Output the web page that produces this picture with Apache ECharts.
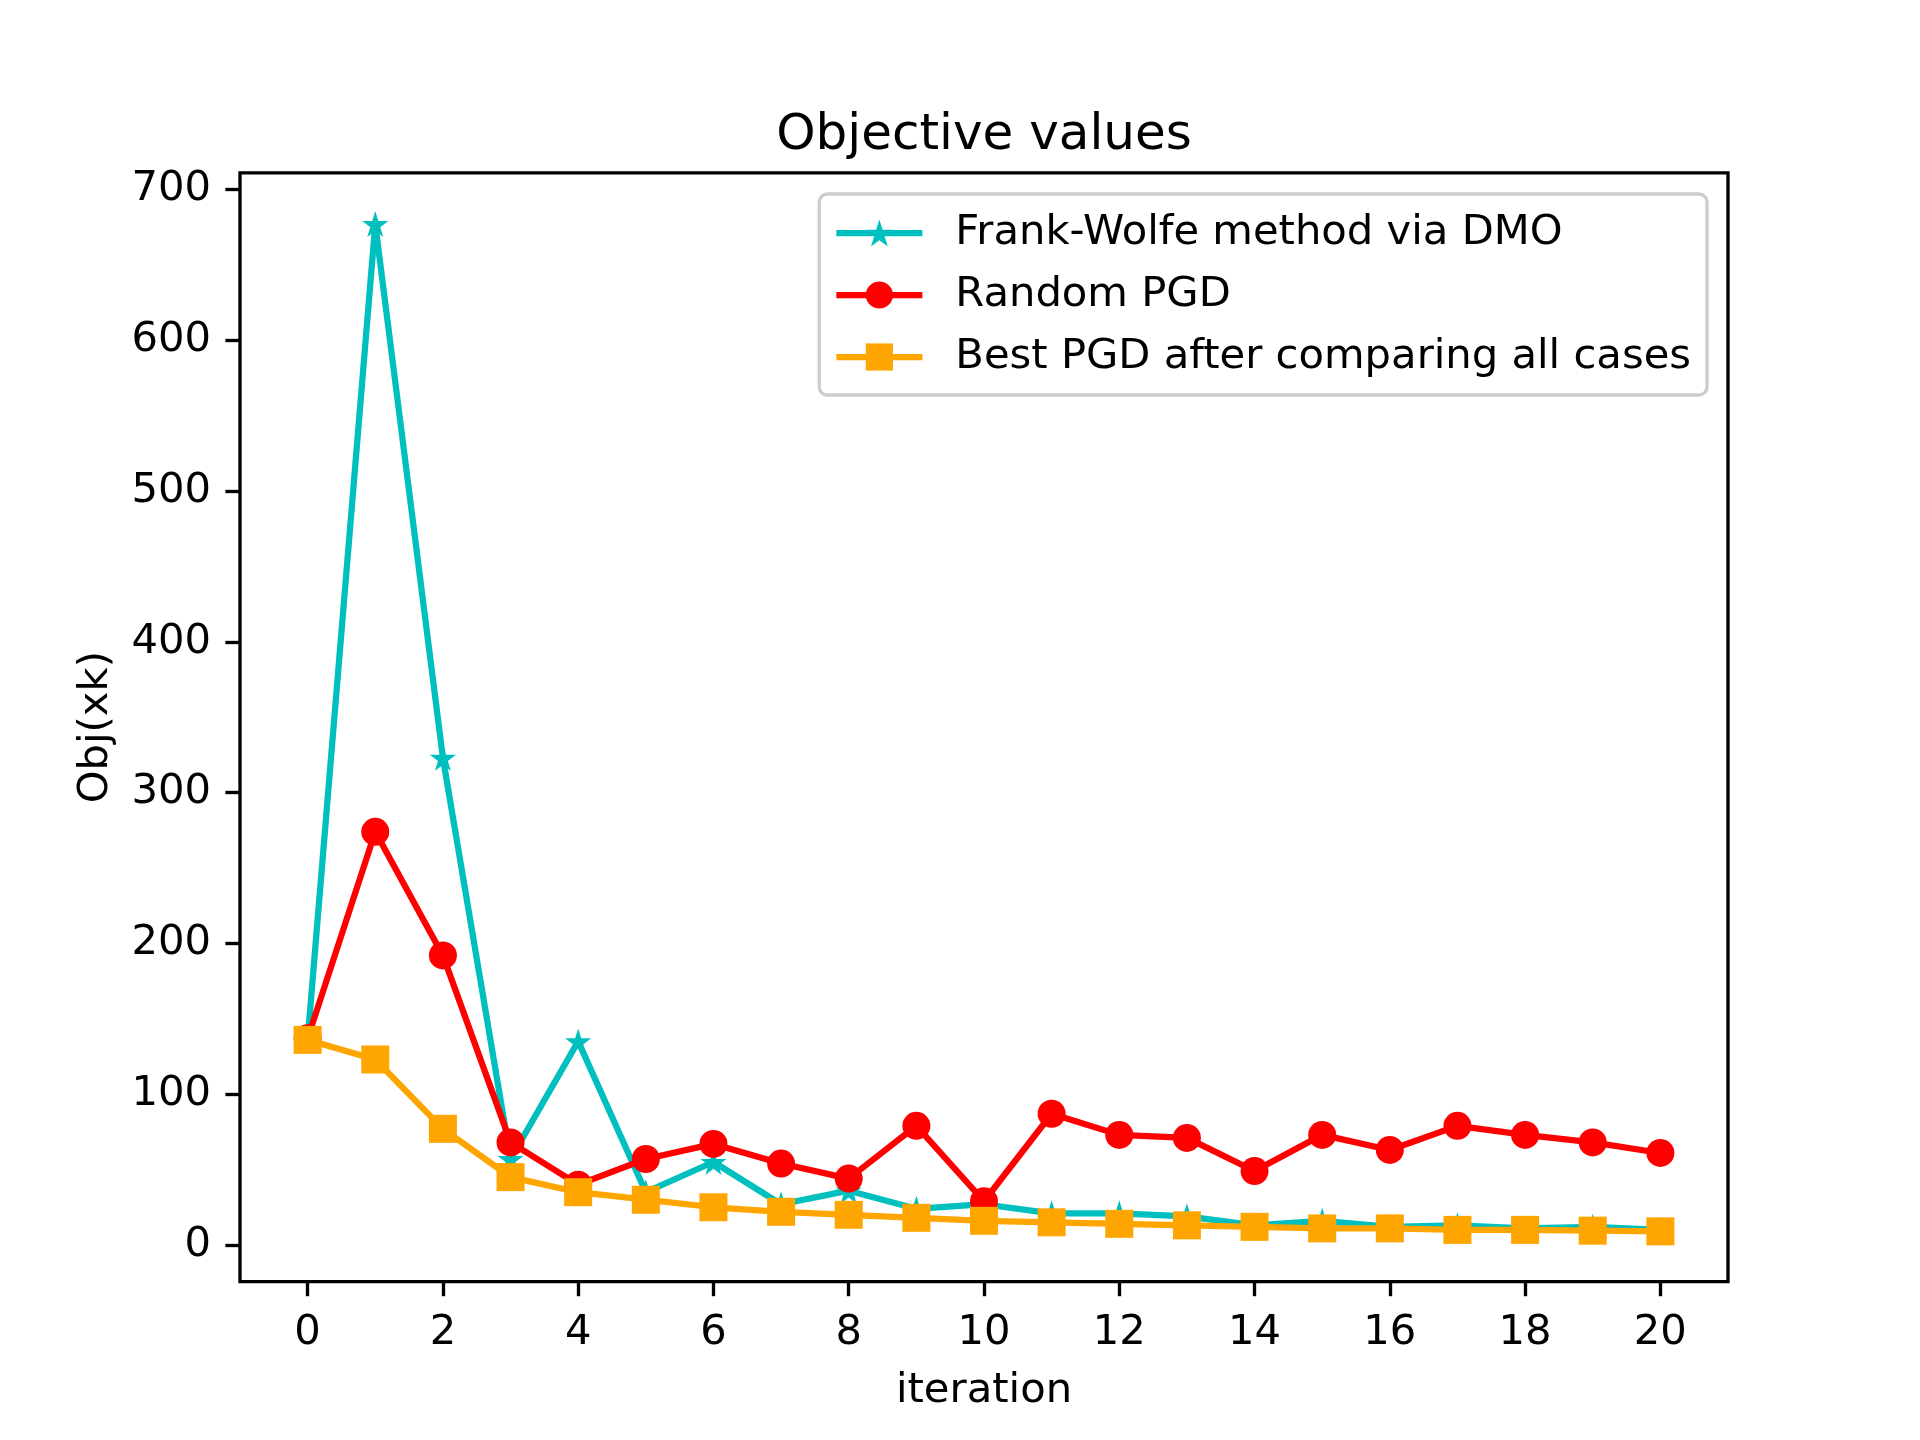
<!DOCTYPE html>
<html>
<head>
<meta charset="utf-8">
<script src="https://cdn.jsdelivr.net/npm/echarts@6/dist/echarts.min.js"></script>
<style>html,body{margin:0;padding:0;background:#fff}#c{width:1920px;height:1440px}</style>
</head>
<body>
<div id="c"></div>
<script>
const iterations = [0,1,2,3,4,5,6,7,8,9,10,11,12,13,14,15,16,17,18,19,20];
const frankWolfe = [136, 677, 323, 57, 135, 35, 55, 27, 36, 24, 27, 21, 21, 19, 13, 16, 12, 13, 11, 12, 10];
const randomPGD = [137, 274, 192, 68, 40, 57, 67, 54, 44, 79, 29, 87, 73, 71, 49, 73, 63, 79, 73, 68, 61];
const bestPGD = [136, 123, 77, 45, 35, 30, 25, 22, 20, 18, 16, 15, 14, 13, 12, 11, 11, 10, 10, 9.5, 9];
const yTicks = [0, 100, 200, 300, 400, 500, 600, 700];
const xTicks = [0, 2, 4, 6, 8, 10, 12, 14, 16, 18, 20];
const seriesNames = ['Frank-Wolfe method via DMO', 'Random PGD', 'Best PGD after comparing all cases'];

const FONT = 'DejaVu Sans';
const FS = 41.7;
const star = 'path://M50,0 L61.2,34.5 L97.6,34.5 L68.2,55.9 L79.4,90.5 L50,69.1 L20.6,90.5 L31.8,55.9 L2.4,34.5 L38.8,34.5 Z';

const pairs = arr => iterations.map((x, i) => [x, arr[i]]);

const chart = echarts.init(document.getElementById('c'), null, {renderer: 'canvas'});
chart.setOption({
  animation: false,
  backgroundColor: '#ffffff',
  title: {
    text: 'Objective values',
    left: 979, top: 106, textAlign: 'center',
    textStyle: {fontFamily: FONT, fontSize: 50, fontWeight: 'normal', color: '#000'}
  },
  legend: {
    orient: 'vertical',
    right: 213, top: 194,
    padding: [18, 16, 17, 14],
    itemWidth: 86, itemHeight: 34,
    itemGap: 20,
    backgroundColor: 'rgba(255,255,255,0.8)',
    borderColor: '#cccccc', borderWidth: 3.3, borderRadius: 8,
    lineStyle: {width: 6.25},
    textStyle: {fontFamily: FONT, fontSize: FS, color: '#000', padding: [0, 0, 0, 28]},
    data: seriesNames
  },
  grid: {
    left: 240, right: 192, top: 172.8, bottom: 158.4,
    show: true, borderColor: '#000', borderWidth: 3.33,
    containLabel: false, outerBoundsMode: 'none'
  },
  xAxis: {
    type: 'value', min: -1, max: 21,
    name: 'iteration', nameLocation: 'middle', nameGap: 89,
    nameTextStyle: {fontFamily: FONT, fontSize: FS, color: '#000'},
    axisLine: {show: false, onZero: false},
    splitLine: {show: false},
    axisTick: {show: true, length: 14.6, lineStyle: {color: '#000', width: 3.33}, customValues: xTicks},
    axisLabel: {fontFamily: FONT, fontSize: FS, color: '#000', margin: 31, customValues: xTicks}
  },
  yAxis: {
    type: 'value', min: -24.3, max: 711,
    name: 'Obj(xk)', nameLocation: 'middle', nameGap: 123, nameRotate: 90,
    nameTextStyle: {fontFamily: FONT, fontSize: FS, color: '#000'},
    axisLine: {show: false, onZero: false},
    splitLine: {show: false},
    axisTick: {show: true, length: 14.6, lineStyle: {color: '#000', width: 3.33}, customValues: yTicks},
    axisLabel: {fontFamily: FONT, fontSize: FS, color: '#000', margin: 29, customValues: yTicks}
  },
  series: [
    {
      name: seriesNames[0], type: 'line', data: pairs(frankWolfe),
      symbol: star, symbolSize: 26,
      lineStyle: {color: '#00bfbf', width: 6.25},
      itemStyle: {color: '#00bfbf', borderWidth: 0}
    },
    {
      name: seriesNames[1], type: 'line', data: pairs(randomPGD),
      symbol: 'circle', symbolSize: 28,
      lineStyle: {color: '#ff0000', width: 6.25},
      itemStyle: {color: '#ff0000', borderWidth: 0}
    },
    {
      name: seriesNames[2], type: 'line', data: pairs(bestPGD),
      symbol: 'rect', symbolSize: 28,
      lineStyle: {color: '#ffa500', width: 6.25},
      itemStyle: {color: '#ffa500', borderWidth: 0}
    }
  ]
});
</script>
</body>
</html>
